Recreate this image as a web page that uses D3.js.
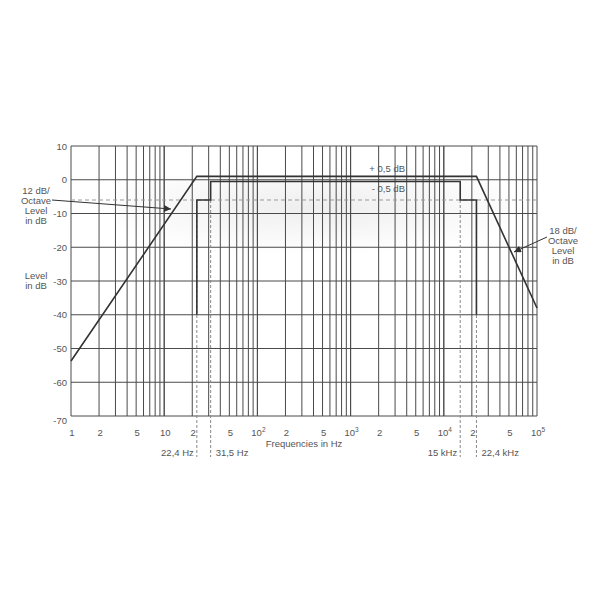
<!DOCTYPE html>
<html><head><meta charset="utf-8">
<script src="https://cdn.jsdelivr.net/npm/d3@7"></script>
<style>body{margin:0;background:#fff}svg{font-family:"Liberation Sans",Arial,sans-serif}</style>
</head><body><svg id="c" width="600" height="600"></svg>
<script>
// ---- data ----
const yTicks = [10, 0, -10, -20, -30, -40, -50, -60, -70];
const xLabelValues = [1, 2, 5, 10, 20, 50, 100, 200, 500, 1e3, 2e3, 5e3, 1e4, 2e4, 5e4, 1e5];
const xLabelBase = ["1", "2", "5", "10", "2", "5", "10", "2", "5", "10", "2", "5", "10", "2", "5", "10"];
const xLabelExp = ["", "", "", "", "", "", "2", "", "", "3", "", "", "4", "", "", "5"];
const upperFreq = [1, 22.4, 22400, 100000];
const upperLevel = [-53.7, 1, 1, -38];
const lowerFreq = [22.4, 22.4, 31.5, 31.5, 15000, 15000, 22400, 22400];
const lowerLevel = [-40, -6, -6, -0.5, -0.5, -6, -6, -40];
const markerFreq = [22.4, 31.5, 15000, 22400];
const markerLabels = ["22,4 Hz", "31,5 Hz", "15 kHz", "22,4 kHz"];
const markerSide = ["left", "right", "left", "right"];
const refLevel = -6;

const svg = d3.select("#c");
const x = d3.scaleLog().domain([1, 1e5]).range([71, 537]);
const y = d3.scaleLinear().domain([-70, 10]).range([416, 146]);
const grid = "#4a4a4a", txt = "#555";

// light shading (soft)
const defs = svg.append("defs");
const rg = defs.append("radialGradient").attr("id", "sh").attr("cx", "50%").attr("cy", "40%").attr("r", "60%");
rg.append("stop").attr("offset", "0%").attr("stop-color", "#eeeeee");
rg.append("stop").attr("offset", "100%").attr("stop-color", "#ffffff");
svg.append("rect").attr("x", x(3)).attr("y", y(1)).attr("width", x(50000) - x(3))
  .attr("height", y(-22) - y(1)).attr("fill", "url(#sh)");

// vertical grid
const vgrid = [];
for (let d = 0; d < 5; d++) for (let m = 1; m <= 10; m++) vgrid.push(m * Math.pow(10, d));
svg.append("g").selectAll("line").data(vgrid).join("line")
  .attr("x1", d => x(d)).attr("x2", d => x(d)).attr("y1", y(10)).attr("y2", y(-70))
  .attr("stroke", grid).attr("stroke-width", 1);
svg.append("g").selectAll("line").data(yTicks).join("line")
  .attr("x1", x(1)).attr("x2", x(1e5)).attr("y1", d => y(d)).attr("y2", d => y(d))
  .attr("stroke", grid).attr("stroke-width", 1);

// dashed reference level
svg.append("line").attr("x1", x(1)).attr("x2", x(1e5)).attr("y1", y(refLevel)).attr("y2", y(refLevel))
  .attr("stroke", "#999").attr("stroke-dasharray", "4,3").attr("stroke-width", 1);

// dashed marker lines
svg.append("g").selectAll("line").data(markerFreq).join("line")
  .attr("x1", d => x(d)).attr("x2", d => x(d)).attr("y1", y(refLevel)).attr("y2", 457)
  .attr("stroke", "#888").attr("stroke-dasharray", "3,2").attr("stroke-width", 1);

// curves
const line = d3.line().x(d => x(d[0])).y(d => y(d[1]));
svg.append("path").attr("d", line(upperFreq.map((f, i) => [f, upperLevel[i]])))
  .attr("fill", "none").attr("stroke", "#333").attr("stroke-width", 1.6);
svg.append("path").attr("d", line(lowerFreq.map((f, i) => [f, lowerLevel[i]])))
  .attr("fill", "none").attr("stroke", "#333").attr("stroke-width", 1.6);

// y tick labels
svg.append("g").selectAll("text").data(yTicks).join("text")
  .attr("x", 67).attr("y", d => y(d) + (d === -70 ? 8 : 3.5)).attr("text-anchor", "end")
  .attr("font-size", 9.5).attr("fill", txt).text(d => d);

// x tick labels
const xl = svg.append("g").selectAll("text").data(xLabelValues).join("text")
  .attr("x", d => x(d) + 1).attr("y", 436).attr("text-anchor", "middle")
  .attr("font-size", 9.5).attr("fill", txt);
xl.append("tspan").text((d, i) => xLabelBase[i]);
xl.append("tspan").attr("dy", -4).attr("font-size", 6.5).text((d, i) => xLabelExp[i]);

svg.append("text").attr("x", 304).attr("y", 447).attr("text-anchor", "middle")
  .attr("font-size", 9.5).attr("fill", txt).text("Frequencies in Hz");

// marker labels
svg.append("g").selectAll("text").data(markerFreq).join("text")
  .attr("x", (d, i) => markerSide[i] === "left" ? x(d) - 3 : x(d) + 5)
  .attr("y", 456).attr("text-anchor", (d, i) => markerSide[i] === "left" ? "end" : "start")
  .attr("font-size", 9.5).attr("fill", txt).text((d, i) => markerLabels[i]);

// tolerance labels
svg.append("text").attr("x", 405).attr("y", 172).attr("text-anchor", "end").attr("font-size", 9.5).attr("fill", txt).text("+ 0,5 dB");
svg.append("text").attr("x", 405).attr("y", 192).attr("text-anchor", "end").attr("font-size", 9.5).attr("fill", txt).text("- 0,5 dB");

// annotations
function block(cx, y0, lines) {
  const t = svg.append("text").attr("text-anchor", "middle").attr("font-size", 9.5).attr("fill", txt);
  lines.forEach((l, i) => t.append("tspan").attr("x", cx).attr("y", y0 + i * 10).text(l));
}
block(36, 194, ["12 dB/", "Octave", "Level", "in dB"]);
block(36, 279, ["Level", "in dB"]);
block(563, 234, ["18 dB/", "Octave", "Level", "in dB"]);

defs.append("marker").attr("id", "ah").attr("viewBox", "0 0 10 10")
  .attr("refX", 10).attr("refY", 5).attr("markerWidth", 8).attr("markerHeight", 7)
  .attr("orient", "auto").attr("markerUnits", "userSpaceOnUse")
  .append("path").attr("d", "M0,0 L10,5 L0,10 Z").attr("fill", "#333");
svg.append("line").attr("x1", 52).attr("y1", 200).attr("x2", 171).attr("y2", 209)
  .attr("stroke", "#333").attr("stroke-width", 1).attr("marker-end", "url(#ah)");
svg.append("line").attr("x1", 547).attr("y1", 237).attr("x2", 514).attr("y2", 252)
  .attr("stroke", "#333").attr("stroke-width", 1).attr("marker-end", "url(#ah)");
</script></body></html>
